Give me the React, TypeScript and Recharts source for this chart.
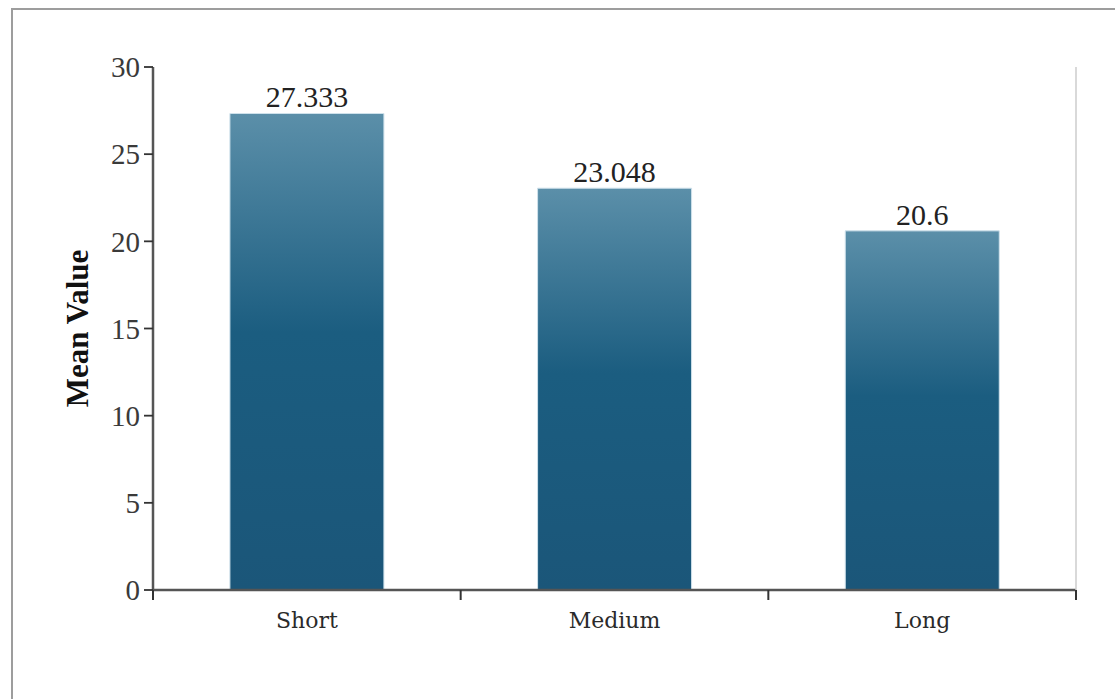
import { BarChart, Bar, XAxis, YAxis, LabelList } from 'recharts';

const categories = ['Short', 'Medium', 'Long'];
const meanValues = [27.333, 23.048, 20.6];
const yTicks = [0, 5, 10, 15, 20, 25, 30];
const edgeTicks = [0, 1, 2, 3];

const data = categories.map((name, i) => ({ name, value: meanValues[i] }));

const serif = '"Liberation Serif", "Times New Roman", serif';
const slab = '"DejaVu Serif", serif';

const CategoryTick = (props: any) => {
  const { x, y, payload } = props;
  return (
    <text x={x} y={y + 29} textAnchor="middle" fontFamily={slab} fontSize={22} fill="#2a2a2a">
      {payload.value}
    </text>
  );
};

const EmptyTick = () => <g />;

const AxisTitle = (props: any) => {
  const { viewBox } = props;
  const cx = viewBox.x - 16;
  const cy = viewBox.y + viewBox.height / 2;
  return (
    <text
      transform={`translate(${cx}, ${cy}) rotate(-90)`}
      textAnchor="middle"
      dominantBaseline="central"
      fontFamily={serif}
      fontWeight="bold"
      fontSize={31}
      fill="#111"
    >
      Mean Value
    </text>
  );
};

const axisStroke = { stroke: '#555', strokeWidth: 2.5 };

export default function App() {
  return (
    <div style={{ position: 'relative', width: 1115, height: 699, overflow: 'hidden', background: '#fff' }}>
      <style>{'body{margin:0;overflow:hidden}'}</style>
      <div
        style={{
          position: 'absolute',
          left: 11,
          top: 8,
          width: 1200,
          height: 800,
          border: '2px solid #9d9d9d',
        }}
      />
      <svg width={0} height={0} style={{ position: 'absolute' }}>
        <defs>
          <linearGradient id="barFill" x1="0" y1="0" x2="0" y2="1">
            <stop offset="0%" stopColor="#5b8fa9" />
            <stop offset="46%" stopColor="#1b5d80" />
            <stop offset="100%" stopColor="#1b5679" />
          </linearGradient>
        </defs>
      </svg>
      <div style={{ position: 'absolute', left: 0, top: 0 }}>
        <BarChart
          width={1115}
          height={699}
          data={data}
          margin={{ top: 67, right: 29, left: 93, bottom: 69 }}
          barCategoryGap="25%"
        >
          <XAxis
            xAxisId={0}
            type="number"
            dataKey="value"
            domain={[0, 3]}
            ticks={edgeTicks}
            interval={0}
            allowDataOverflow
            tick={<EmptyTick />}
            tickSize={10}
            height={1}
            axisLine={axisStroke}
            tickLine={{ stroke: '#333', strokeWidth: 2 }}
          />
          <XAxis
            xAxisId={1}
            dataKey="name"
            axisLine={false}
            tickLine={false}
            height={39}
            tick={<CategoryTick />}
            interval={0}
          />
          <YAxis
            domain={[0, 30]}
            ticks={yTicks}
            width={60}
            tickSize={9}
            tickMargin={4}
            axisLine={axisStroke}
            tickLine={{ stroke: '#333', strokeWidth: 1.8 }}
            tick={{ fontFamily: serif, fontSize: 29, fill: '#3a3a3a' }}
            label={<AxisTitle />}
          />
          <YAxis
            yAxisId="right"
            orientation="right"
            domain={[0, 30]}
            width={10}
            tick={false}
            tickLine={false}
            axisLine={{ stroke: '#cccccc', strokeWidth: 1.5 }}
          />
          <Bar
            dataKey="value"
            xAxisId={1}
            fill="url(#barFill)"
            stroke="#cfe1eb"
            strokeWidth={1}
            isAnimationActive={false}
          >
            <LabelList
              dataKey="value"
              position="top"
              offset={6}
              fontFamily={serif}
              fontSize={30}
              fill="#222"
            />
          </Bar>
        </BarChart>
      </div>
    </div>
  );
}
